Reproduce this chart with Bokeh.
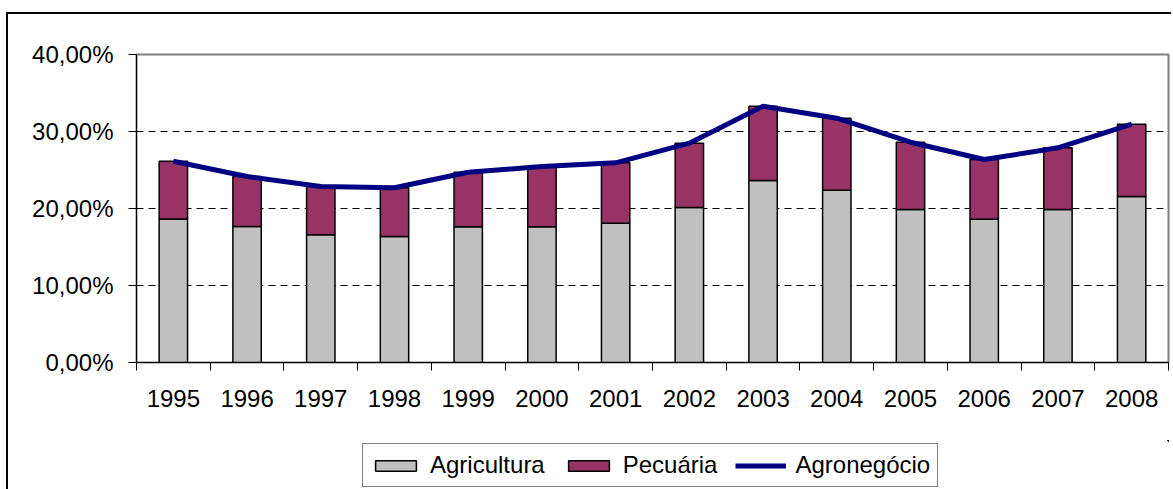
from bokeh.plotting import figure
from bokeh.layouts import column
from bokeh.models import ColumnDataSource, FixedTicker, Range1d, Legend
from bokeh.embed import file_html
from bokeh.resources import INLINE

# ---- data ----
years = ["1995", "1996", "1997", "1998", "1999", "2000", "2001",
         "2002", "2003", "2004", "2005", "2006", "2007", "2008"]
agricultura = [18.65, 17.66, 16.58, 16.36, 17.62, 17.62, 18.09,
               20.13, 23.64, 22.38, 19.87, 18.61, 19.87, 21.56]
pecuaria = [7.49, 6.49, 6.28, 6.33, 7.09, 7.83, 7.84,
            8.35, 9.65, 9.35, 8.74, 7.75, 8.01, 9.39]
agronegocio = [26.14, 24.15, 22.86, 22.69, 24.71, 25.45, 25.93,
               28.48, 33.29, 31.73, 28.61, 26.36, 27.88, 30.95]
y_ticks = [0, 10, 20, 30, 40]
y_tick_labels = ["0,00%", "10,00%", "20,00%", "30,00%", "40,00%"]
series_names = ["Agricultura", "Pecuária", "Agronegócio"]

FONT = "Liberation Sans"
C_AGRI, C_PEC, C_AGRO = "#C0C0C0", "#993366", "#000080"

xs = [i + 0.5 for i in range(len(years))]
source = ColumnDataSource(dict(x=xs, agri=agricultura, pec=pecuaria, agro=agronegocio))

W, H = 1163, 426
TOP, LEFT, RIGHT, FRAME_H = 40, 128, 3, 308
p = figure(width=W, height=H, output_backend="svg", toolbar_location=None,
           x_range=Range1d(0, len(years)), y_range=Range1d(0, 40),
           min_border_left=LEFT, min_border_right=RIGHT, min_border_top=TOP,
           min_border_bottom=H - TOP - FRAME_H)
p.background_fill_color = "white"
p.border_fill_color = "white"
p.outline_line_color = "#808080"
p.outline_line_width = 2

bars = p.vbar_stack(["agri", "pec"], x="x", width=0.385, source=source,
                    fill_color=[C_AGRI, C_PEC], line_color="black",
                    line_width=1.5)
ln = p.line("x", "agro", source=source, line_color=C_AGRO, line_width=5)

# y axis
p.yaxis.ticker = FixedTicker(ticks=y_ticks)
p.yaxis.major_label_overrides = {t: l for t, l in zip(y_ticks, y_tick_labels)}
p.yaxis.major_tick_out = 8
p.yaxis.major_tick_in = 0
p.yaxis.minor_tick_out = 0
p.yaxis.minor_tick_in = 0
p.yaxis.major_label_standoff = 15
p.yaxis.axis_line_color = "black"
p.yaxis.major_tick_line_color = "black"
p.yaxis.major_label_text_font = FONT
p.yaxis.major_label_text_font_size = "24px"
p.yaxis.major_label_text_color = "black"

# x axis
p.xaxis.ticker = FixedTicker(ticks=xs, minor_ticks=list(range(len(years) + 1)))
p.xaxis.major_label_overrides = {x: y for x, y in zip(xs, years)}
p.xaxis.major_tick_out = 0
p.xaxis.major_tick_in = 0
p.xaxis.minor_tick_out = 8
p.xaxis.minor_tick_in = 0
p.xaxis.minor_tick_line_color = "black"
p.xaxis.major_label_standoff = 19
p.xaxis.axis_line_color = "black"
p.xaxis.major_label_text_font = FONT
p.xaxis.major_label_text_font_size = "24px"
p.xaxis.major_label_text_color = "black"

# grid
p.xgrid.visible = False
p.ygrid.ticker = FixedTicker(ticks=[10, 20, 30])
p.ygrid.grid_line_color = "black"
p.ygrid.grid_line_dash = "7 5"
p.ygrid.grid_line_width = 1

# ---- legend strip: proxies share the chart's data and styles, but the
# strip's ranges keep them out of view so only their legend glyphs show ----
H2 = 49
q = figure(width=W, height=H2, output_backend="svg", toolbar_location=None,
           x_range=Range1d(-20, -19), y_range=Range1d(-20, -19),
           x_axis_location=None, y_axis_location=None,
           min_border_left=0, min_border_right=0, min_border_top=0,
           min_border_bottom=0)
q.outline_line_color = None
q.xgrid.visible = False
q.ygrid.visible = False
q.background_fill_color = "white"
q.border_fill_color = "white"
r1 = q.vbar(x="x", top="agri", width=0.385, source=source, fill_color=C_AGRI,
            line_color="black", line_width=1.5)
r2 = q.vbar(x="x", top="pec", width=0.385, source=source, fill_color=C_PEC,
            line_color="black", line_width=1.5)
r3 = q.line(x="x", y="agro", source=source, line_color=C_AGRO, line_width=5)

legend = Legend(items=[(series_names[0], [r1]), (series_names[1], [r2]),
                       (series_names[2], [r3])],
                orientation="horizontal", location=(226, 2), margin=0,
                label_text_font=FONT, label_text_font_size="24px",
                label_text_color="black",
                glyph_width=51, glyph_height=13, label_standoff=9, spacing=18,
                padding=7, border_line_color="black", border_line_width=1,
                background_fill_color="white", background_fill_alpha=1)
q.add_layout(legend, "center")

layout = column(p, q, spacing=0)
layout.styles = {"margin-top": "12px", "margin-left": "6px",
                 "border-top": "2px solid black", "border-left": "2px solid black"}

open("out.html", "w").write(file_html(layout, INLINE))
